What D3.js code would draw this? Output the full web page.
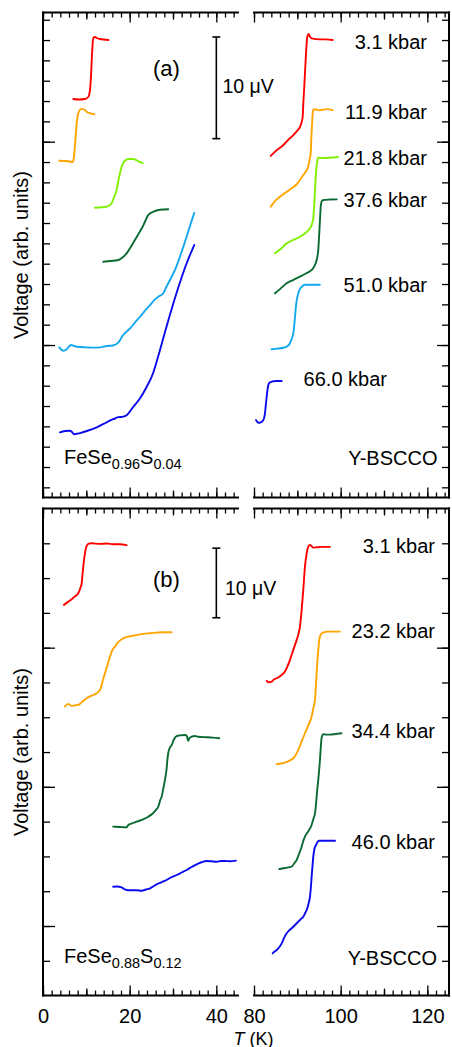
<!DOCTYPE html>
<html><head><meta charset="utf-8">
<script src="https://cdn.jsdelivr.net/npm/d3@7"></script>
<style>
html,body{margin:0;padding:0;background:#fff}
svg{display:block;background:#fff}
text{font-family:"Liberation Sans",Arial,Helvetica,sans-serif;fill:#000}
</style>
</head><body>
<svg id="c" width="452" height="1047"></svg>
<script>
// ---------------- DATA ----------------
// axis domains (T in K, voltage in µV, offset curves)
const tempDomainFeSe = [0, 45];
const tempDomainBSCCO = [80, 125];
const voltDomainA = [-15, 32.7];
const voltDomainB = [-10, 60];
const xTickLabelsFeSe = [0, 20, 40];
const xTickLabelsBSCCO = [80, 100, 120];

const pressuresA = ["3.1 kbar", "11.9 kbar", "21.8 kbar", "37.6 kbar", "51.0 kbar", "66.0 kbar"];
const pressuresB = ["3.1 kbar", "23.2 kbar", "34.4 kbar", "46.0 kbar"];
const colorsA = ["#ff0000", "#ffa500", "#80f000", "#0a6a32", "#12a8ef", "#0a0aee"];
const colorsB = ["#ff0000", "#ffa500", "#0a6a32", "#0a0aee"];
const sampleA = ["FeSe", "0.96", "S", "0.04"];
const sampleB = ["FeSe", "0.88", "S", "0.12"];
const reference = "Y-BSCCO";

// panel (a) FeSe0.96S0.04  [T, V]
const aFeSe_3p1 = [[7.0,24.2],[8.3,24.15],[9.69,24.2],[10.45,24.4],[10.84,25.1],[11.07,26.4],[11.3,28.5],[11.6,30.2],[12.0,30.3],[12.4,30.2],[13.1,30.1],[15.1,30.0]];
const aFeSe_11p9 = [[3.76,18.13],[5.47,18.1],[6.85,18.0],[7.15,18.5],[7.38,19.7],[7.61,20.9],[7.84,22.1],[8.14,22.8],[8.77,23.2],[9.3,23.2],[10.22,22.9],[11.83,22.7]];
const aFeSe_21p8 = [[12.0,13.5],[14.7,13.6],[15.85,13.94],[16.4,14.56],[17.0,15.25],[17.4,16.2],[17.76,16.9],[18.5,17.9],[19.7,18.3],[20.8,18.3],[21.9,18.1],[23.0,17.9]];
const aFeSe_37p6 = [[13.9,8.19],[15.5,8.26],[17.4,8.36],[18.2,8.56],[19.3,9.02],[20.3,9.67],[21.2,10.33],[22.0,10.9],[22.8,11.48],[23.5,12.1],[24.3,12.8],[25.4,13.1],[27.0,13.3],[28.9,13.35]];
const aFeSe_51p0 = [[3.76,-0.23],[4.68,-0.56],[5.47,-0.42],[6.39,0.0],[7.77,-0.17],[10.1,-0.23],[11.6,-0.26],[13.15,-0.23],[14.7,-0.1],[16.15,-0.05],[17.37,0.23],[17.8,0.5],[18.5,0.98],[20.1,1.64],[21.2,2.2],[22.4,2.78],[23.5,3.36],[24.7,3.93],[25.8,4.46],[26.6,4.75],[27.75,5.09],[28.6,5.83],[29.3,6.39],[30.45,7.38],[32.0,9.18],[33.5,11.14],[34.9,13.0]];
const aFeSe_66p0 = [[3.92,-8.59],[5.07,-8.46],[6.23,-8.43],[6.69,-8.56],[7.15,-8.78],[8.53,-8.66],[10.1,-8.46],[12.4,-8.1],[14.7,-7.6],[16.2,-7.3],[17.37,-7.1],[18.5,-7.05],[19.3,-6.9],[20.8,-6.1],[22.4,-5.24],[23.9,-4.13],[25.4,-2.78],[26.2,-1.67],[27.0,-0.49],[28.5,1.8],[30.8,5.09],[33.15,8.04],[34.9,9.84]];

// panel (a) Y-BSCCO
const aBSCCO_3p1 = [[83.85,18.6],[85.07,19.1],[86.76,19.67],[87.84,20.16],[89.07,20.65],[89.92,21.05],[90.61,21.47],[91.0,21.93],[91.23,22.45],[91.42,24.1],[91.6,25.4],[91.8,27.05],[92.0,28.7],[92.3,30.3],[92.6,30.6],[92.9,30.34],[93.3,30.17],[95.2,30.07],[96.6,30.07],[98.15,30.0]];
const aBSCCO_11p9 = [[83.85,13.6],[84.84,14.16],[86.0,14.59],[87.15,14.95],[88.7,15.41],[89.9,15.84],[91.37,16.72],[92.16,17.2],[92.5,17.54],[92.8,18.2],[93.08,18.86],[93.26,20.66],[93.45,22.13],[93.6,23.0],[93.84,23.2],[94.5,23.14],[95.2,23.1],[96.8,23.2],[98.15,23.1]];
const aBSCCO_21p8 = [[84.84,9.02],[86.0,9.39],[87.54,10.0],[89.0,10.33],[90.6,10.65],[92.0,11.07],[92.9,11.48],[93.45,12.0],[93.68,12.49],[93.9,13.77],[94.14,15.74],[94.4,17.4],[94.65,18.2],[94.83,18.42],[96.0,18.39],[97.5,18.42],[99.4,18.5]];
const aBSCCO_37p6 = [[84.84,5.09],[86.0,5.5],[87.54,6.07],[89.0,6.39],[90.6,6.72],[92.0,7.03],[93.3,7.38],[93.95,7.77],[94.46,8.36],[94.83,9.34],[95.06,10.99],[95.22,12.3],[95.4,13.6],[95.6,14.1],[95.99,14.26],[97.5,14.31],[99.1,14.33]];
const aBSCCO_51p0 = [[84.08,-0.42],[85.3,-0.36],[86.76,-0.27],[87.6,-0.15],[88.3,0.17],[88.77,0.69],[89.07,1.15],[89.3,1.97],[89.46,2.78],[89.76,4.13],[90.22,5.09],[90.6,5.5],[91.0,5.73],[91.76,5.93],[93.38,5.93],[95.2,5.93]];
const aBSCCO_66p0 = [[80.46,-7.38],[80.92,-7.62],[81.38,-7.64],[81.85,-7.52],[82.15,-7.38],[82.54,-6.72],[82.72,-5.9],[82.93,-5.09],[83.1,-4.43],[83.3,-3.93],[83.7,-3.67],[84.08,-3.61],[85.07,-3.54],[86.4,-3.54]];

// panel (b) FeSe0.88S0.12
const bFeSe_3p1 = [[4.84,46.15],[5.77,46.58],[6.62,46.97],[7.38,47.37],[8.14,47.83],[8.65,48.6],[8.93,49.27],[9.11,50.46],[9.3,51.65],[9.53,52.9],[9.69,53.58],[9.92,54.34],[10.22,54.77],[10.6,54.96],[11.23,55.0],[13.15,54.92],[14.7,54.96],[16.2,54.87],[17.76,54.87],[19.3,54.73]];
const bFeSe_23p2 = [[5.07,31.53],[5.84,31.92],[6.62,31.63],[7.38,31.73],[8.14,31.77],[9.0,32.2],[10.08,32.73],[10.84,32.99],[11.6,33.2],[12.39,33.45],[13.15,33.93],[13.6,34.79],[13.96,35.65],[14.3,36.33],[14.88,37.52],[15.46,38.71],[16.03,39.68],[16.6,40.15],[17.3,40.76],[18.15,41.22],[19.68,41.59],[21.2,41.76],[23.1,41.98],[24.7,42.08],[26.2,42.16],[27.9,42.22],[29.7,42.22]];
const bFeSe_34p4 = [[16.2,14.28],[17.76,14.23],[19.3,14.19],[19.68,14.52],[20.5,14.74],[21.6,14.99],[23.1,15.34],[24.2,15.67],[25.4,16.2],[26.07,16.68],[26.6,17.15],[27.06,18.11],[27.38,18.59],[27.75,19.7],[28.14,20.99],[28.5,22.43],[28.7,23.86],[28.9,24.83],[29.3,25.66],[29.7,26.0],[30.2,26.81],[30.84,27.3],[31.6,27.4],[32.76,27.46],[33.2,27.3],[33.5,26.6],[33.8,27.0],[34.3,27.2],[35.06,27.3],[35.8,27.2],[37.76,27.13],[39.2,27.07],[40.67,26.98]];
const bFeSe_46p0 = [[16.2,5.65],[17.07,5.68],[18.15,5.56],[18.7,5.32],[19.3,5.18],[20.3,5.13],[21.6,5.13],[22.77,5.07],[23.76,5.25],[24.7,5.42],[25.4,5.68],[26.23,5.99],[27.22,6.25],[28.5,6.61],[29.5,6.97],[30.84,7.33],[32.0,7.69],[33.15,8.05],[34.3,8.48],[35.46,8.87],[36.6,9.16],[37.76,9.34],[38.9,9.3],[40.07,9.24],[41.06,9.34],[41.98,9.34],[43.1,9.3],[44.52,9.39]];

// panel (b) Y-BSCCO
const bBSCCO_3p1 = [[82.93,35.22],[83.46,35.03],[84.08,35.12],[84.61,35.44],[85.24,35.61],[86.23,36.01],[87.15,36.56],[87.77,37.38],[88.3,38.24],[89.07,39.68],[89.85,41.12],[90.27,41.98],[90.61,43.03],[91.0,45.43],[91.37,48.3],[91.76,51.65],[92.16,53.58],[92.53,54.53],[92.9,54.77],[93.3,54.56],[93.68,54.38],[94.53,54.44],[95.6,54.48],[97.5,54.48]];
const bBSCCO_23p2 = [[85.24,23.25],[86.23,23.36],[87.15,23.48],[88.07,23.72],[89.07,24.11],[89.69,24.65],[90.22,25.3],[91.0,26.52],[91.76,27.7],[92.57,28.9],[93.3,30.09],[93.7,31.34],[94.07,32.49],[94.3,34.65],[94.45,36.33],[94.64,38.24],[94.83,39.68],[95.04,40.97],[95.2,41.59],[95.85,42.16],[97.14,42.31],[98.45,42.31],[99.84,42.31]];
const bBSCCO_34p4 = [[85.84,8.19],[87.15,8.34],[88.7,8.53],[89.34,9.06],[89.85,9.49],[90.38,10.35],[91.0,11.4],[91.37,12.22],[91.76,12.84],[92.57,13.66],[93.3,14.52],[93.7,15.38],[94.07,16.2],[94.3,17.4],[94.45,18.59],[94.64,19.84],[94.83,20.99],[95.04,22.43],[95.22,23.86],[95.45,26.02],[95.6,27.03],[95.99,27.56],[96.6,27.5],[97.5,27.5],[98.9,27.6],[100.2,27.7]];
const bBSCCO_46p0 = [[84.31,-3.92],[84.73,-3.67],[85.24,-3.45],[85.77,-3.09],[86.39,-2.49],[86.92,-1.73],[87.54,-1.05],[88.07,-0.65],[88.7,-0.33],[89.46,0.14],[90.22,0.62],[90.84,1.01],[91.37,1.34],[91.76,1.8],[92.16,2.3],[92.57,3.16],[92.92,4.21],[93.15,5.75],[93.3,7.09],[93.5,8.63],[93.68,9.96],[93.95,11.07],[94.3,11.64],[94.76,12.15],[95.06,12.26],[96.4,12.26],[98.7,12.26]];

// 10 µV scale bars [T, Vlow, Vhigh]
const scaleBarA = [40, 20.3, 30.3];
const scaleBarB = [40, 44.3, 54.3];

// ---------------- LAYOUT ----------------
const svg = d3.select("#c");
const FONT = 20;
const xL = d3.scaleLinear(tempDomainFeSe, [43, 238]);
const xR = d3.scaleLinear(tempDomainBSCCO, [254, 449]);
const yA = d3.scaleLinear(voltDomainA, [497.5, 12.6]);
const yB = d3.scaleLinear(voltDomainB, [995.6, 508.5]);

function tickGroup(g, axis, tx, ty) {
  const s = g.append("g").attr("transform", `translate(${tx},${ty})`).call(axis);
  s.select(".domain").remove();
  s.selectAll("line").attr("stroke", "#000").attr("stroke-width", 1.3);
  return s;
}

function xTicks(g, x, yPix, top) {
  const d = x.domain();
  const minor = d3.range(d[0], d[1], 2);
  const mid = d3.range(d[0] + 10, d[1], 20);
  const major = d3.range(d[0], d[1], 20);
  [[minor, 5], [mid, 7], [major, 10]].forEach(([vals, len]) => {
    const ax = (top ? d3.axisTop(x) : d3.axisBottom(x)).tickValues(vals).tickSize(-len).tickFormat("");
    tickGroup(g, ax, 0, yPix);
  });
}

function yTicks(g, y, xPix, right, minorStep) {
  const d = y.domain();
  const minor = d3.range(Math.ceil(d[0] / minorStep + 1e-9) * minorStep, d[1] - 0.01, minorStep).filter(v => v > d[0] + 0.01);
  const major = minor.filter(v => Math.abs(v % 20) < 1e-6);
  [[minor, 7], [major, 12]].forEach(([vals, len]) => {
    const ax = (right ? d3.axisRight(y) : d3.axisLeft(y)).tickValues(vals).tickSize(-len).tickFormat("");
    tickGroup(g, ax, xPix, 0);
  });
}

function frame(g, y, minorStep) {
  const [yb, yt] = y.range();
  xTicks(g, xL, yt, true);
  xTicks(g, xL, yb, false);
  yTicks(g, y, xL.range()[0], false, minorStep);
  xTicks(g, xR, yt, true);
  xTicks(g, xR, yb, false);
  yTicks(g, y, xR.range()[1], true, minorStep);
  const lines = [
    [xL.range()[0], yt, xL.range()[1], yt], [xL.range()[0], yb, xL.range()[1], yb], [xL.range()[0], yt, xL.range()[0], yb],
    [xR.range()[0], yt, xR.range()[1], yt], [xR.range()[0], yb, xR.range()[1], yb], [xR.range()[1], yt, xR.range()[1], yb]
  ];
  g.selectAll("line.spine").data(lines).join("line").attr("class", "spine")
    .attr("x1", d => d[0]).attr("y1", d => d[1]).attr("x2", d => d[2]).attr("y2", d => d[3])
    .attr("stroke", "#000").attr("stroke-width", 2).attr("stroke-linecap", "square");
}

function curves(g, x, y, series, colors) {
  const line = d3.line().x(d => x(d[0])).y(d => y(d[1])).curve(d3.curveMonotoneX);
  series.forEach((s, i) => {
    g.append("path").attr("d", line(s)).attr("fill", "none")
      .attr("stroke", colors[i]).attr("stroke-width", 1.9)
      .attr("stroke-linejoin", "round").attr("stroke-linecap", "round");
  });
}

function scaleBar(g, y, bar) {
  const xp = xL(bar[0]), y1 = y(bar[2]), y2 = y(bar[1]);
  const gg = g.append("g").attr("stroke", "#000").attr("stroke-width", 1.6);
  gg.append("line").attr("x1", xp).attr("x2", xp).attr("y1", y1).attr("y2", y2);
  gg.append("line").attr("x1", xp - 4).attr("x2", xp + 4).attr("y1", y1).attr("y2", y1);
  gg.append("line").attr("x1", xp - 4).attr("x2", xp + 4).attr("y1", y2).attr("y2", y2);
}

function label(g, txt, x, yb, anchor, size) {
  return g.append("text").attr("x", x).attr("y", yb).attr("text-anchor", anchor || "start")
    .attr("font-size", size || FONT).text(txt);
}

function sample(g, parts, x, yb) {
  const t = g.append("text").attr("x", x).attr("y", yb).attr("font-size", FONT);
  t.append("tspan").text(parts[0]);
  t.append("tspan").attr("font-size", 14.5).attr("dy", 5).text(parts[1]);
  t.append("tspan").attr("dy", -5).text(parts[2]);
  t.append("tspan").attr("font-size", 14.5).attr("dy", 5).text(parts[3]);
}

function yLabel(g, yc) {
  g.append("text").attr("transform", `translate(27.5,${yc}) rotate(-90)`)
    .attr("text-anchor", "middle").attr("font-size", FONT).text("Voltage (arb. units)");
}

// ---------- panel (a) ----------
const gA = svg.append("g");
frame(gA, yA, 2);
curves(gA, xL, yA, [aFeSe_3p1, aFeSe_11p9, aFeSe_21p8, aFeSe_37p6, aFeSe_51p0, aFeSe_66p0], colorsA);
curves(gA, xR, yA, [aBSCCO_3p1, aBSCCO_11p9, aBSCCO_21p8, aBSCCO_37p6, aBSCCO_51p0, aBSCCO_66p0], colorsA);
scaleBar(gA, yA, scaleBarA);
label(gA, "(a)", 153, 76, "start", 22);
label(gA, "10 \u03BCV", 222.5, 93.3, "start", 19.5);
const labPosA = [[427, 48.5, "end"], [427, 118.5, "end"], [427, 165, "end"], [427, 206.7, "end"], [427, 291.7, "end"], [387, 386, "end"]];
pressuresA.forEach((p, i) => label(gA, p, labPosA[i][0], labPosA[i][1], labPosA[i][2]));
sample(gA, sampleA, 64, 463.5);
label(gA, reference, 437.5, 464.5, "end");
yLabel(gA, (yA.range()[0] + yA.range()[1]) / 2);

// ---------- panel (b) ----------
const gB = svg.append("g");
frame(gB, yB, 5);
curves(gB, xL, yB, [bFeSe_3p1, bFeSe_23p2, bFeSe_34p4, bFeSe_46p0], colorsB);
curves(gB, xR, yB, [bBSCCO_3p1, bBSCCO_23p2, bBSCCO_34p4, bBSCCO_46p0], colorsB);
scaleBar(gB, yB, scaleBarB);
label(gB, "(b)", 153, 586.5, "start", 22);
label(gB, "10 \u03BCV", 225, 595, "start", 19.5);
const labPosB = [[435, 553.3], [435, 638.3], [435, 738.3], [435, 849]];
pressuresB.forEach((p, i) => label(gB, p, labPosB[i][0], labPosB[i][1], "end"));
sample(gB, sampleB, 64, 963.3);
label(gB, reference, 437, 964.5, "end");
yLabel(gB, (yB.range()[0] + yB.range()[1]) / 2);

// ---------- x tick labels + title ----------
[[xL, xTickLabelsFeSe], [xR, xTickLabelsBSCCO]].forEach(([x, vals]) => {
  const s = svg.append("g").attr("transform", `translate(0,${yB.range()[0]})`)
    .call(d3.axisBottom(x).tickValues(vals).tickSize(0).tickPadding(13.5).tickFormat(d3.format("d")));
  s.select(".domain").remove();
  s.attr("font-size", FONT).attr("font-family", null);
  s.selectAll("text").attr("fill", "#000");
});
const tt = svg.append("text").attr("x", 253.5).attr("y", 1044.5).attr("text-anchor", "middle").attr("font-size", 18);
tt.append("tspan").attr("font-style", "italic").text("T");
tt.append("tspan").text(" (K)");
</script>
</body></html>
